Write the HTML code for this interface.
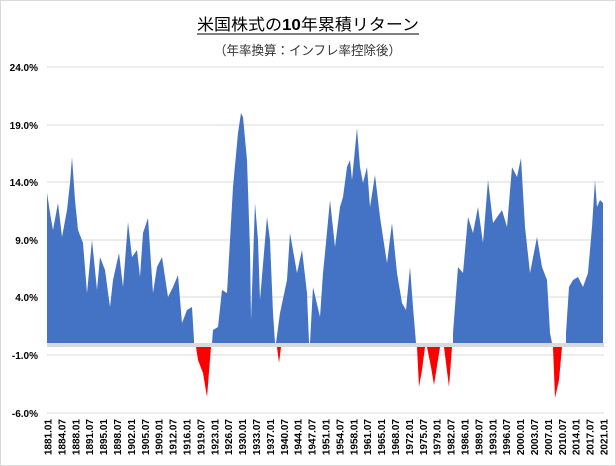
<!DOCTYPE html>
<html><head><meta charset="utf-8"><style>
body{margin:0;background:#fff;}
svg{display:block;font-family:"Liberation Sans","Noto Sans CJK JP",sans-serif;}
</style></head><body>
<svg width="616" height="466" viewBox="0 0 616 466">
<rect x="0.5" y="0.5" width="615" height="465" fill="#fff" stroke="#d9d9d9"/>
<text x="197" y="30" font-size="16" fill="#000" textLength="222" lengthAdjust="spacingAndGlyphs">米国株式の<tspan font-weight="bold">10</tspan>年累積リターン</text>
<line x1="197" y1="34" x2="419" y2="34" stroke="#000" stroke-width="1"/>
<text x="214" y="55" font-size="13" fill="#333" textLength="187" lengthAdjust="spacingAndGlyphs">（年率換算：インフレ率控除後）</text>
<g stroke="#d9d9d9" stroke-width="1">
<line x1="47" y1="67" x2="604" y2="67"/><line x1="47" y1="125" x2="604" y2="125"/><line x1="47" y1="182" x2="604" y2="182"/><line x1="47" y1="240" x2="604" y2="240"/><line x1="47" y1="297" x2="604" y2="297"/><line x1="47" y1="355" x2="604" y2="355"/><line x1="47" y1="413" x2="604" y2="413"/>
</g>
<g font-size="10" font-weight="bold" text-anchor="end" fill="#000">
<text x="38" y="71">24.0%</text><text x="38" y="129">19.0%</text><text x="38" y="186">14.0%</text><text x="38" y="244">9.0%</text><text x="38" y="301">4.0%</text><text x="38" y="359">-1.0%</text><text x="38" y="417">-6.0%</text>
</g>
<polygon fill="#4472c4" points="47,343 47,193 50,213 53,230 58,203 62,237 67,210 70,183 72,157 75,200 78,230 83,243 87,293 92,240 97,290 100,257 105,270 110,307 113,280 119,253 123,287 128,222 132,257 137,250 140,277 143,233 148,218 153,293 157,267 162,257 168,297 173,287 178,275 182,323 187,310 192,307 194,340 194,343 212,343 213,330 218,327 222,290 227,293 233,187 238,133 241,113 243,117 247,160 250,250 251,320 255,203 258,240 260,300 267,217 270,240 273,313 275,343 276,343 280,313 287,280 290,233 297,273 302,250 307,293 309,343 310,343 313,287 320,317 323,273 325,253 330,200 335,247 340,207 343,197 347,167 350,160 352,180 357,128 360,167 363,183 367,167 370,207 375,175 380,217 383,237 387,263 392,223 397,273 402,303 406,310 410,267 413,307 416,343 453,343 453,333 458,267 463,273 468,217 473,233 478,207 483,243 488,180 493,223 502,210 507,227 512,167 517,177 521,158 525,227 530,273 537,237 542,267 547,280 550,333 552,343 566,343 566,333 569,287 573,280 578,277 583,287 588,273 592,227 595,180 597,207 600,200 603,203 603,343"/>
<rect x="47" y="343" width="557" height="4" fill="#d9d9d9"/>
<g fill="#ff0000">
<polygon points="196,347 198,360 203,373 207,397 211,347"/>
<polygon points="277,347 279,363 281,347"/>
<polygon points="417,347 419,387 422,370 425,347"/>
<polygon points="427,347 431,367 434,385 440,347"/>
<polygon points="444,347 449,387 452,347"/>
<polygon points="553,347 555,398 559,380 562,347"/>
</g>
<g font-size="10" font-weight="bold" fill="#000" text-anchor="end">
<text transform="translate(51.5,419) rotate(-90)">1881.01</text>
<text transform="translate(65.4,419) rotate(-90)">1884.07</text>
<text transform="translate(79.3,419) rotate(-90)">1888.01</text>
<text transform="translate(93.2,419) rotate(-90)">1891.07</text>
<text transform="translate(107.1,419) rotate(-90)">1895.01</text>
<text transform="translate(121,419) rotate(-90)">1898.07</text>
<text transform="translate(134.9,419) rotate(-90)">1902.01</text>
<text transform="translate(148.8,419) rotate(-90)">1905.07</text>
<text transform="translate(162.7,419) rotate(-90)">1909.01</text>
<text transform="translate(176.6,419) rotate(-90)">1912.07</text>
<text transform="translate(190.5,419) rotate(-90)">1916.01</text>
<text transform="translate(204.4,419) rotate(-90)">1919.07</text>
<text transform="translate(218.3,419) rotate(-90)">1923.01</text>
<text transform="translate(232.2,419) rotate(-90)">1926.07</text>
<text transform="translate(246.1,419) rotate(-90)">1930.01</text>
<text transform="translate(260,419) rotate(-90)">1933.07</text>
<text transform="translate(273.9,419) rotate(-90)">1937.01</text>
<text transform="translate(287.8,419) rotate(-90)">1940.07</text>
<text transform="translate(301.7,419) rotate(-90)">1944.01</text>
<text transform="translate(315.6,419) rotate(-90)">1947.07</text>
<text transform="translate(329.5,419) rotate(-90)">1951.01</text>
<text transform="translate(343.4,419) rotate(-90)">1954.07</text>
<text transform="translate(357.3,419) rotate(-90)">1958.01</text>
<text transform="translate(371.2,419) rotate(-90)">1961.07</text>
<text transform="translate(385.1,419) rotate(-90)">1965.01</text>
<text transform="translate(399,419) rotate(-90)">1968.07</text>
<text transform="translate(412.9,419) rotate(-90)">1972.01</text>
<text transform="translate(426.8,419) rotate(-90)">1975.07</text>
<text transform="translate(440.7,419) rotate(-90)">1979.01</text>
<text transform="translate(454.6,419) rotate(-90)">1982.07</text>
<text transform="translate(468.5,419) rotate(-90)">1986.01</text>
<text transform="translate(482.4,419) rotate(-90)">1989.07</text>
<text transform="translate(496.3,419) rotate(-90)">1993.01</text>
<text transform="translate(510.2,419) rotate(-90)">1996.07</text>
<text transform="translate(524.1,419) rotate(-90)">2000.01</text>
<text transform="translate(538,419) rotate(-90)">2003.07</text>
<text transform="translate(551.9,419) rotate(-90)">2007.01</text>
<text transform="translate(565.8,419) rotate(-90)">2010.07</text>
<text transform="translate(579.7,419) rotate(-90)">2014.01</text>
<text transform="translate(593.6,419) rotate(-90)">2017.07</text>
<text transform="translate(607.5,419) rotate(-90)">2021.01</text>
</g>
</svg>
</body></html>
